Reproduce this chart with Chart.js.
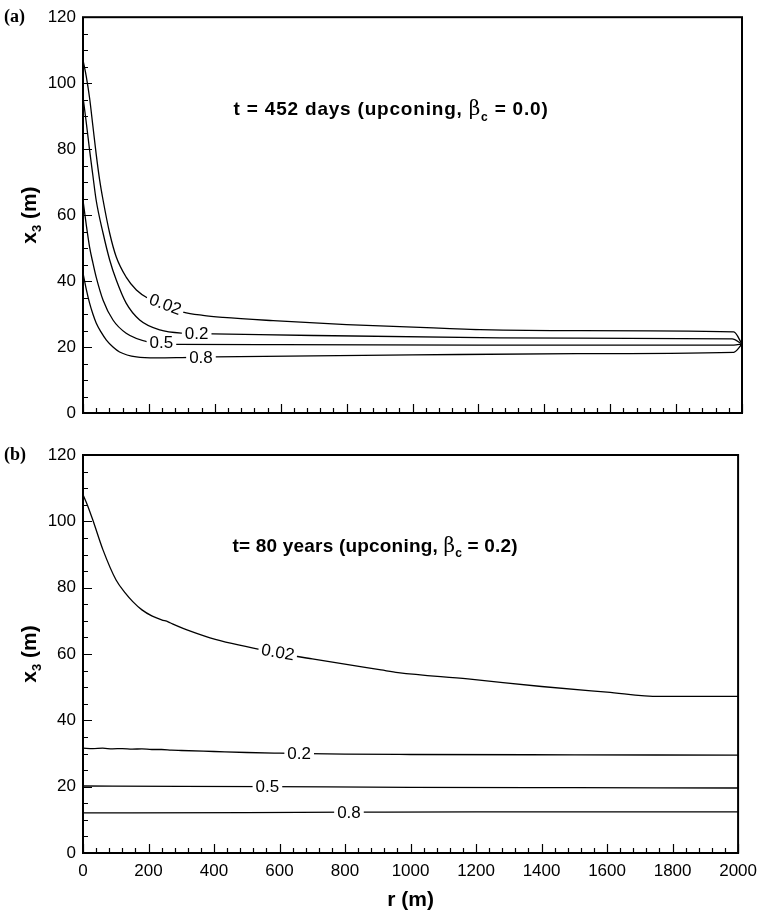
<!DOCTYPE html>
<html>
<head>
<meta charset="utf-8">
<script src="https://cdn.jsdelivr.net/npm/chart.js@4.4.1/dist/chart.umd.min.js"></script>
<style>
  body { margin: 0; background: #fff; }
  #wrap { position: relative; width: 765px; height: 918px; }
  canvas { position: absolute; left: 0; }
  #chart-a { top: 0; }
  #chart-b { top: 435px; }
</style>
</head>
<body>
<div id="wrap">
  <canvas id="chart-a" width="765" height="435"></canvas>
  <canvas id="chart-b" width="765" height="483"></canvas>
</div>
<script>
// axis ticks
const rTicks = [0, 200, 400, 600, 800, 1000, 1200, 1400, 1600, 1800, 2000];
const x3Ticks = [0, 20, 40, 60, 80, 100, 120];

// panel (a): t = 452 days, beta_c = 0.0
const a002R = [0, 10, 20, 30, 40, 50, 61, 81, 101, 131, 162, 197, 250, 304, 364, 425, 577, 800, 1114, 1205, 1500, 1975, 2000];
const a002X = [107, 102, 95.5, 87, 78.5, 71, 64.5, 54.5, 47.3, 41.2, 37.3, 34.8, 32.6, 30.6, 29.6, 29.0, 28.0, 26.8, 25.6, 25.3, 25.0, 24.6, 20.9];
const a02R = [0, 10, 20, 30, 40, 61, 81, 101, 131, 172, 233, 304, 395, 700, 1265, 1500, 1970, 2000];
const a02X = [95.8, 88, 79.7, 72, 64.5, 54.5, 46.4, 40.3, 33.3, 28.2, 25.2, 24.2, 24.0, 23.5, 22.8, 22.7, 22.5, 20.9];
const a05R = [0, 10, 20, 30, 40, 61, 91, 131, 200, 285, 600, 1200, 1975, 2000];
const a05X = [64.5, 57, 50.3, 45.5, 41.2, 34.2, 28.2, 24.2, 21.5, 20.8, 20.7, 20.6, 20.6, 20.9];
const a08R = [0, 10, 20, 30, 40, 55, 71, 91, 111, 162, 223, 300, 400, 1000, 1500, 1975, 2000];
const a08X = [42.4, 37.5, 33.3, 30, 27.3, 24.5, 22.1, 20.0, 18.5, 17.0, 16.7, 16.8, 17.0, 17.6, 18.0, 18.4, 20.9];

// panel (b): t = 80 years, beta_c = 0.2
const b002R = [0, 15, 30, 61, 101, 130, 152, 180, 210, 240, 260, 273, 330, 404, 595, 700, 910, 962, 1175, 1400, 1600, 1760, 2000];
const b002X = [108, 104.5, 100.4, 91.4, 82.3, 78.3, 75.8, 73.3, 71.5, 70.3, 69.7, 69.1, 66.8, 64.4, 60.3, 58.5, 55.2, 54.4, 52.5, 50.2, 48.5, 47.2, 47.2];
const b02R = [0, 30, 60, 90, 120, 150, 180, 210, 240, 270, 300, 400, 500, 600, 660, 800, 1000, 1500, 2000];
const b02X = [31.6, 31.5, 31.6, 31.4, 31.5, 31.3, 31.4, 31.2, 31.2, 31.0, 30.9, 30.6, 30.3, 30.1, 30.0, 29.8, 29.7, 29.6, 29.5];
const b05R = [0, 300, 563, 1000, 1500, 2000];
const b05X = [20.2, 20.1, 20.0, 19.8, 19.7, 19.6];
const b08R = [0, 500, 812, 1200, 2000];
const b08X = [12.1, 12.2, 12.3, 12.4, 12.4];

// contour labels
const levelNames = ['0.02', '0.2', '0.5', '0.8'];
const labelRA = [250, 345, 238, 358];
const labelXA = [33.0, 24.2, 21.5, 16.8];
const labelAngleA = [20, 0, 0, 0];
const labelRB = [595, 660, 563, 812];
const labelXB = [60.6, 30.0, 20.0, 12.3];
const labelAngleB = [10, 0, 0, 0];

const FONT = "'Liberation Sans', Arial, Helvetica, sans-serif";

function pts(rs, xs) {
  return rs.map((r, i) => ({ x: r, y: xs[i] }));
}

const framePlugin = {
  id: 'frame',
  afterDraw(chart) {
    const { ctx, chartArea: a, scales: { x, y } } = chart;
    ctx.save();
    ctx.strokeStyle = '#000';
    ctx.lineWidth = 1.2;
    ctx.beginPath();
    for (let v = 0; v <= 2000; v += 40) {
      const px = Math.round(x.getPixelForValue(v)) + 0.5;
      const len = v % 200 === 0 ? 9 : 5;
      ctx.moveTo(px, a.bottom);
      ctx.lineTo(px, a.bottom - len);
    }
    for (let v = 0; v <= 120; v += 5) {
      const py = Math.round(y.getPixelForValue(v)) + 0.5;
      const len = v % 20 === 0 ? 9 : 5;
      ctx.moveTo(a.left, py);
      ctx.lineTo(a.left + len, py);
    }
    ctx.stroke();
    ctx.lineWidth = 2;
    ctx.strokeRect(a.left, a.top, a.right - a.left, a.bottom - a.top);
    ctx.restore();
  }
};

const labelPlugin = {
  id: 'contourLabels',
  afterDatasetsDraw(chart, args, opts) {
    const { ctx, scales: { x, y } } = chart;
    ctx.save();
    ctx.font = '17px ' + FONT;
    ctx.textAlign = 'center';
    ctx.textBaseline = 'middle';
    opts.r.forEach((r, i) => {
      const px = x.getPixelForValue(r);
      const py = y.getPixelForValue(opts.x3[i]);
      const txt = levelNames[i];
      const w = ctx.measureText(txt).width + 6;
      ctx.save();
      ctx.translate(px, py);
      ctx.rotate(opts.angle[i] * Math.PI / 180);
      ctx.fillStyle = '#fff';
      ctx.fillRect(-w / 2, -4, w, 8);
      ctx.fillStyle = '#000';
      ctx.fillText(txt, 0, 1);
      ctx.restore();
    });
    ctx.restore();
  }
};

const decorPlugin = {
  id: 'decor',
  afterDraw(chart, args, opts) {
    const { ctx, chartArea: a, scales: { x, y } } = chart;
    ctx.save();
    ctx.fillStyle = '#000';
    ctx.textBaseline = 'middle';

    // panel tag
    ctx.font = 'bold 18px "Liberation Serif", "Times New Roman", serif';
    ctx.textAlign = 'left';
    ctx.fillText(opts.tag, 4, a.top);

    // y title, rotated
    ctx.save();
    ctx.translate(30, (a.top + a.bottom) / 2);
    ctx.rotate(-Math.PI / 2);
    ctx.font = 'bold 21px ' + FONT;
    const w1 = ctx.measureText('x').width;
    ctx.font = 'bold 13px ' + FONT;
    const w2 = ctx.measureText('3').width;
    ctx.font = 'bold 21px ' + FONT;
    const w3 = ctx.measureText(' (m)').width;
    const cx = -(w1 + w2 + w3) / 2;
    ctx.fillText('x', cx, 0);
    ctx.font = 'bold 13px ' + FONT;
    ctx.fillText('3', cx + w1, 7);
    ctx.font = 'bold 21px ' + FONT;
    ctx.fillText(' (m)', cx + w1 + w2, 0);
    ctx.restore();

    // annotation with beta_c
    ctx.letterSpacing = opts.spacing;
    const parts = [
      { t: opts.pre, f: 'bold 19px ' + FONT, dy: 0 },
      { t: 'β', f: '20px "DejaVu Serif", "Liberation Serif", serif', dy: 0 },
      { t: 'c', f: 'bold 12px ' + FONT, dy: 7 },
      { t: opts.post, f: 'bold 19px ' + FONT, dy: 0 }
    ];
    let total = 0;
    parts.forEach(p => { ctx.font = p.f; p.w = ctx.measureText(p.t).width; total += p.w; });
    let tx = x.getPixelForValue(opts.noteR) - total / 2;
    const ty = y.getPixelForValue(opts.noteX3);
    parts.forEach(p => {
      ctx.font = p.f;
      ctx.fillText(p.t, tx, ty + p.dy);
      tx += p.w;
    });
    ctx.letterSpacing = '0px';

    if (opts.xTitle) {
      ctx.font = 'bold 21px ' + FONT;
      ctx.textAlign = 'center';
      ctx.fillText('r (m)', (a.left + a.right) / 2, a.bottom + 47);
    }
    ctx.restore();
  }
};

function makeChart(id, series, cfg) {
  const datasets = series.map(s => ({
    data: pts(s[0], s[1]),
    showLine: true,
    borderColor: '#000',
    borderWidth: 1.3,
    pointRadius: 0,
    fill: false,
    cubicInterpolationMode: 'monotone'
  }));
  return new Chart(document.getElementById(id), {
    type: 'scatter',
    data: { datasets },
    options: {
      responsive: false,
      animation: false,
      layout: { padding: { top: cfg.top, right: 23, left: 0, bottom: 0 } },
      plugins: {
        legend: { display: false },
        tooltip: { enabled: false },
        contourLabels: cfg.labels,
        decor: cfg.decor
      },
      scales: {
        x: {
          type: 'linear', min: 0, max: 2000,
          afterBuildTicks: s => { s.ticks = rTicks.map(v => ({ value: v })); },
          ticks: {
            display: cfg.showX, color: '#000', padding: 8,
            font: { family: FONT, size: 17 },
            callback: v => String(v)
          },
          grid: { display: false, drawTicks: false },
          border: { display: false },
          afterFit: s => { s.height = cfg.xHeight; }
        },
        y: {
          type: 'linear', min: 0, max: 120,
          afterBuildTicks: s => { s.ticks = x3Ticks.map(v => ({ value: v })); },
          ticks: { color: '#000', padding: 7, font: { family: FONT, size: 17 }, callback: v => String(v) },
          grid: { display: false, drawTicks: false },
          border: { display: false },
          afterFit: s => { s.width = 83; }
        }
      }
    },
    plugins: [framePlugin, labelPlugin, decorPlugin]
  });
}

makeChart('chart-a', [[a002R, a002X], [a02R, a02X], [a05R, a05X], [a08R, a08X]], {
  top: 17, xHeight: 22, showX: false,
  labels: { r: labelRA, x3: labelXA, angle: labelAngleA },
  decor: { tag: '(a)', pre: 't = 452 days (upconing, ', post: ' = 0.0)', noteR: 935, noteX3: 91.8, xTitle: false, spacing: '0.8px' }
});

makeChart('chart-b', [[b002R, b002X], [b02R, b02X], [b05R, b05X], [b08R, b08X]], {
  top: 20, xHeight: 65, showX: true,
  labels: { r: labelRB, x3: labelXB, angle: labelAngleB },
  decor: { tag: '(b)', pre: 't= 80 years (upconing, ', post: ' = 0.2)', noteR: 892, noteX3: 92.3, xTitle: true, spacing: '0.2px' }
});
</script>
</body>
</html>
